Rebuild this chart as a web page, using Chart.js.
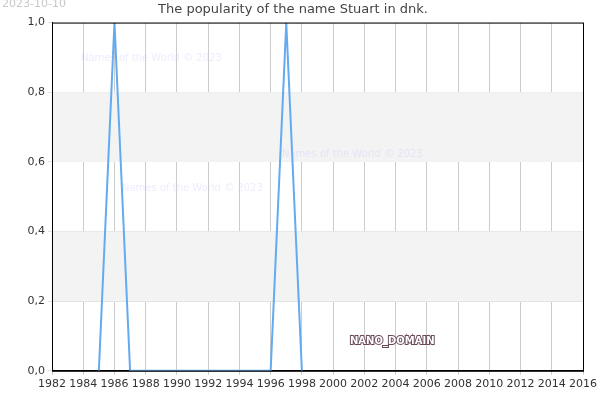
<!DOCTYPE html>
<html><head><meta charset="utf-8">
<script src="https://cdn.jsdelivr.net/npm/chart.js@4"></script>
<style>html,body{margin:0;padding:0;background:#fff}#w{width:600px;height:400px;position:relative}</style>
</head><body><div id="w"><canvas id="c" width="600" height="400"></canvas></div>
<script>
const years = [1985,1986,1987,1988,1989,1990,1991,1992,1993,1994,1995,1996,1997,1998];
const values = [0,1,0,0,0,0,0,0,0,0,0,0,1,0];
const yTicks = [0,0.2,0.4,0.6,0.8,1.0];
const xMin = 1982, xMax = 2016;

const bands = {
  id:'bands',
  beforeDatasetsDraw(ch){
    const {ctx, chartArea:a, scales:{y}} = ch;
    ctx.save(); ctx.fillStyle='#f3f3f3';
    [[0.2,0.4],[0.6,0.8]].forEach(([lo,hi])=>{
      const t=y.getPixelForValue(hi), b=y.getPixelForValue(lo);
      ctx.fillRect(a.left,t,a.right-a.left,b-t);
    });
    ctx.restore();
  },
  afterDraw(ch){
    const {ctx, chartArea:a} = ch;
    ctx.save();
    ctx.font='11px "DejaVu Sans"'; ctx.fillStyle='#c8c8c8'; ctx.textBaseline='top';
    ctx.fillText('2023-10-10',2,-1);
    ctx.font='10px "DejaVu Sans"';
    ctx.fillStyle='rgba(200,200,255,0.35)';
    ctx.fillText('Names of the World © 2023',81,53);
    ctx.fillText('Names of the World © 2023',282,149);
    ctx.fillText('Names of the World © 2023',122,183);
    ctx.font='bold 10px "DejaVu Sans"';
    ctx.strokeStyle='#6b4a5a'; ctx.lineWidth=2; ctx.strokeText('NANO_DOMAIN',350,336);
    ctx.fillStyle='#fff'; ctx.fillText('NANO_DOMAIN',350,336);
    ctx.strokeStyle='#000'; ctx.lineWidth=1;
    ctx.strokeRect(a.left+0.5,a.top+0.5,a.right-a.left,a.bottom-a.top);
    ctx.restore();
  }
};

new Chart(document.getElementById('c'),{
  type:'line',
  data:{datasets:[{data:years.map((x,i)=>({x,y:values[i]})),borderColor:'#64aaf0',borderWidth:2,pointRadius:0,tension:0,fill:false}]},
  options:{
    responsive:false,animation:false,
    layout:{padding:{left:0,right:14,top:0,bottom:6}},
    plugins:{legend:{display:false},tooltip:{enabled:false},
      title:{display:true,text:'The popularity of the name Stuart in dnk.',color:'#444',font:{family:'DejaVu Sans',size:13,weight:'normal'},padding:{top:2,bottom:5}}},
    scales:{
      x:{type:'linear',min:xMin,max:xMax,
        ticks:{stepSize:2,color:'#333',font:{family:'DejaVu Sans',size:11},maxRotation:0,callback:v=>String(v)},
        grid:{color:'#cccccc',drawTicks:true,tickLength:4},border:{color:'#000'}},
      y:{min:0,max:1,afterBuildTicks:s=>{s.ticks=yTicks.map(v=>({value:v}));},
        afterFit:s=>{s.width=52;},
        ticks:{color:'#333',font:{family:'DejaVu Sans',size:11},callback:v=>v.toFixed(1).replace('.',',')},
        grid:{color:'#e0e0e0',tickLength:4},border:{color:'#000'}}
    }
  },
  plugins:[bands]
});
</script></body></html>
